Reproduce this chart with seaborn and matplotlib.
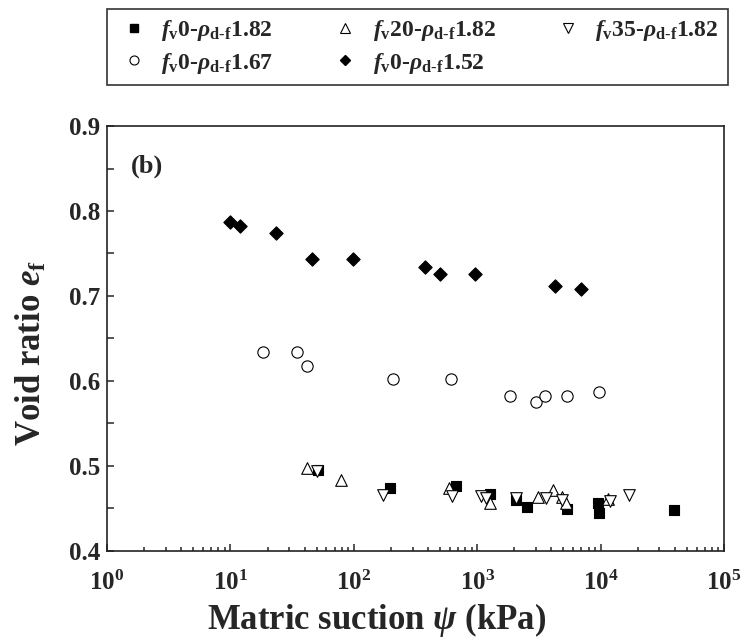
import numpy as np
import pandas as pd
import seaborn as sns
import matplotlib.pyplot as plt
from matplotlib.lines import Line2D
from matplotlib.ticker import MultipleLocator, LogLocator, NullFormatter

# data (matric suction kPa, void ratio)
sq182_x = [51.7, 197, 670, 1259, 2056, 2524, 5330, 9550, 9780, 39200]
sq182_y = [0.495, 0.474, 0.477, 0.467, 0.460, 0.452, 0.449, 0.456, 0.445, 0.448]

up182_x = [41.7, 78.5, 594, 1277, 3100, 4140, 4880, 5280, 11560]
up182_y = [0.498, 0.483, 0.474, 0.457, 0.464, 0.472, 0.463, 0.456, 0.461]

dn182_x = [50.2, 172, 625, 1080, 1180, 2056, 3630, 4870, 12000, 16950]
dn182_y = [0.494, 0.466, 0.465, 0.465, 0.462, 0.462, 0.462, 0.460, 0.459, 0.466]

ci167_x = [18.5, 34.6, 41.7, 207.6, 617, 1854, 2998, 3566, 5350, 9780]
ci167_y = [0.634, 0.634, 0.618, 0.602, 0.602, 0.582, 0.575, 0.582, 0.582, 0.587]

di152_x = [10, 12, 23.5, 45.7, 98, 380, 502, 966, 4300, 6980]
di152_y = [0.787, 0.782, 0.774, 0.743, 0.743, 0.734, 0.726, 0.726, 0.712, 0.708]

labels = [
    r'$f_\mathrm{v}$0-$\rho_\mathrm{d\text{-}f}$1.82',
    r'$f_\mathrm{v}$20-$\rho_\mathrm{d\text{-}f}$1.82',
    r'$f_\mathrm{v}$35-$\rho_\mathrm{d\text{-}f}$1.82',
    r'$f_\mathrm{v}$0-$\rho_\mathrm{d\text{-}f}$1.67',
    r'$f_\mathrm{v}$0-$\rho_\mathrm{d\text{-}f}$1.52',
]

sns.set_style('ticks')
plt.rcParams['font.family'] = ['Liberation Serif', 'DejaVu Serif']
plt.rcParams['font.weight'] = 'bold'
plt.rcParams['axes.labelweight'] = 'bold'
plt.rcParams['mathtext.fontset'] = 'custom'
plt.rcParams['mathtext.rm'] = 'Liberation Serif:bold'
plt.rcParams['mathtext.it'] = 'Liberation Serif:bold:italic'
plt.rcParams['mathtext.bf'] = 'Liberation Serif:bold'

fig = plt.figure(figsize=(7.45, 6.38), dpi=100)
ax = fig.add_axes([0.1436, 0.1364, 0.8282, 0.6661])

series = [
    (sq182_x, sq182_y, 's', 'black', 55),
    (ci167_x, ci167_y, 'o', 'white', 66),
    (di152_x, di152_y, 'D', 'black', 46),
    (up182_x, up182_y, '^', 'white', 70),
    (dn182_x, dn182_y, 'v', 'white', 70),
]
for xs, ys, m, fc, s in series:
    df = pd.DataFrame({'x': xs, 'y': ys})
    sns.scatterplot(data=df, x='x', y='y', marker=m, color=fc, edgecolor='black',
                    linewidth=0.8, s=s, ax=ax, zorder=3)

ax.set_xscale('log')
ax.set_xlim(1, 1e5)
ax.set_ylim(0.4, 0.9)
ax.yaxis.set_major_locator(MultipleLocator(0.1))
ax.yaxis.set_minor_locator(MultipleLocator(0.05))
ax.xaxis.set_major_locator(LogLocator(base=10, numticks=10))
ax.xaxis.set_minor_locator(LogLocator(base=10, subs=np.arange(2, 10), numticks=10))
ax.xaxis.set_minor_formatter(NullFormatter())

ax.tick_params(which='both', direction='in', labelsize=18, width=1.1)
ax.tick_params(which='major', length=5)
ax.tick_params(axis='x', which='major', pad=14)
ax.tick_params(axis='y', which='major', pad=5)
ax.tick_params(axis='x', which='minor', length=3)
ax.tick_params(axis='y', which='minor', length=5)
for sp in ax.spines.values():
    sp.set_linewidth(1.2)
    sp.set_color('#222222')

ax.set_xlabel(r'Matric suction $\psi$ (kPa)', fontsize=25)
ax.set_ylabel(r'Void ratio $e_\mathrm{f}$', fontsize=25)
ax.xaxis.set_label_coords(0.4376, -0.118)
ax.yaxis.set_label_coords(-0.094, 0.466)
ax.text(0.038, 0.905, '(b)', transform=ax.transAxes, fontsize=19, fontweight='bold',
        va='center', ha='left')

handles = [
    Line2D([], [], ls='none', marker='s', mfc='black', mec='black', ms=6),
    Line2D([], [], ls='none', marker='o', mfc='white', mec='black', ms=6.5, mew=0.8),
    Line2D([], [], ls='none', marker='^', mfc='white', mec='black', ms=7, mew=0.8),
    Line2D([], [], ls='none', marker='D', mfc='black', mec='black', ms=5.5),
    Line2D([], [], ls='none', marker='v', mfc='white', mec='black', ms=7, mew=0.8),
]
order = [0, 3, 1, 4, 2]
leg = fig.legend(handles, [labels[i] for i in order], ncol=3,
                 loc='upper left', bbox_to_anchor=(107 / 745, 1 - 9 / 638),
                 fontsize=17, frameon=True, fancybox=False,
                 edgecolor='black', handlelength=1.5, handletextpad=0.4,
                 columnspacing=2.3, labelspacing=0.3, borderpad=0.4, borderaxespad=0)
leg.get_frame().set_linewidth(1.2)

fig.savefig('out.png', dpi=100)
